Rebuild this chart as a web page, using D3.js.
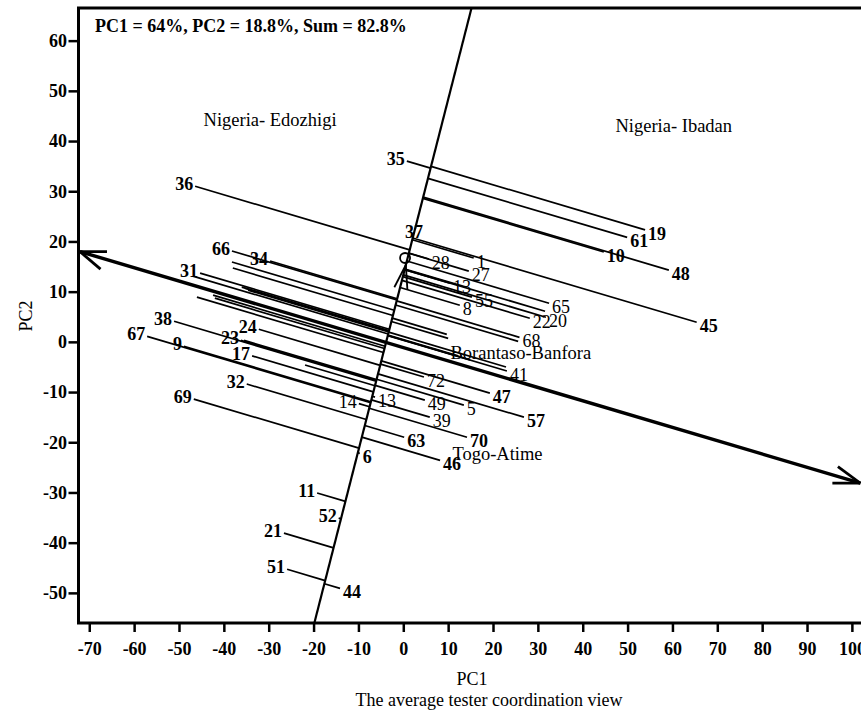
<!DOCTYPE html>
<html>
<head>
<meta charset="utf-8">
<script src="https://cdn.jsdelivr.net/npm/d3@7"></script>
<style>
body{margin:0;background:#fff;}
text{font-family:"Liberation Serif","Times New Roman",serif;fill:#000;}
</style>
</head>
<body>
<svg id="chart" width="861" height="714" viewBox="0 0 861 714"></svg>
<script>
// genotype scores ("" = line without visible label)
let genotypes = ["36","35","37","19","61","10","48","45","28","1","27","13","55","8","65","20","22","68","41",
    "72","47","49","5","57","39","70","63","46","13","14","6","11","52","21","51","44","69","32","17","9","67",
    "38","23","24","31","66","34",
    "","","","","","","","","","","","","","","","","","",""];
let pc1 = [-46.4,0.8,2.4,53.9,49.9,44.7,59.2,65.4,5.7,15.7,14.6,10.4,15.3,12.6,32.5,31.8,28.2,25.9,23.1,
    4.6,19.3,4.8,13.5,26.9,5.9,14.2,0.2,8.2,-6.3,-9.9,-9.7,-19.2,-14.4,-26.6,-25.9,-14.1,-46.7,-34.9,-33.7,-48.9,-57.1,
    -51.1,-36.2,-32.2,-45.3,-38.2,-29.7,
    -46.9,-38.2,-38.0,-46.0,-42.4,-42.0,-36.0,-35.3,-34.6,-35.5,-21.9,25.6,22.9,10.0,9.7,14.9,12.2,31.6,14.0];
let pc2 = [31.0,36.0,21.7,22.3,20.8,17.9,14.3,3.9,16.5,16.7,14.1,11.7,8.9,7.3,7.7,4.9,4.7,0.9,-5.8,
    -7.0,-10.2,-11.6,-12.6,-15.0,-15.0,-19.0,-19.0,-23.6,-11.0,-12.3,-22.2,-30.1,-35.1,-38.1,-45.3,-49.1,-11.4,-8.4,-2.8,-0.9,1.1,
    4.1,0.3,2.5,13.7,18.1,16.1,
    13.1,15.9,14.7,8.9,9.3,8.7,10.9,10.7,10.3,0.3,-4.6,0.1,-5.0,0.7,1.5,-3.6,-2.8,6.1,10.9];

// environments (label only)
let envNames = ["Nigeria- Edozhigi","Nigeria- Ibadan","Borantaso-Banfora","Togo-Atime"];
let envPC1 = [-29.7,60.3,26.2,21.0];
let envPC2 = [44.2,43.0,-2.1,-22.3];

// average tester coordination axes (end points) and average environment
let abscissa = [[-72.07,17.97],[101.9,-28.15]];
let ordinate = [[-19.84,-56.04],[15.2,66.47]];
let avgEnv = [0.4,16.7];

let xTicks = d3.range(-70,101,10);
let yTicks = d3.range(-50,61,10);
let title = "PC1 = 64%, PC2 = 18.8%, Sum = 82.8%";

let svg = d3.select("#chart");
let x = d3.scaleLinear().domain([-72.4,109.5]).range([78.5,894.5]);
let y = d3.scaleLinear().domain([-56,66.5]).range([623,8]);

// labels drawn in the thinner face
let thinLabels = new Set(["28","1","27","13","55","8","65","22","20","68","41","72","49","5","39","14"]);

svg.append("rect").attr("width",861).attr("height",714).attr("fill","#fff");

// foot of each genotype on the ordinate, moving parallel to the abscissa
function foot(px,py){
    let dx = abscissa[1][0]-abscissa[0][0], dy = abscissa[1][1]-abscissa[0][1];
    let ax = ordinate[0][0], ay = ordinate[0][1];
    let ex = ordinate[1][0]-ax, ey = ordinate[1][1]-ay;
    // p + t*d = a + s*e
    let den = dx*ey - dy*ex;
    let t = ((ax-px)*ey - (ay-py)*ex)/den;
    return [px+t*dx, py+t*dy];
}

let g = svg.append("g");

let rows = genotypes.map(function(d,i){
    let f = foot(pc1[i],pc2[i]);
    return {name:d, x:pc1[i], y:pc2[i], fx:f[0], fy:f[1]};
});

g.selectAll(".gline")
    .data(rows)
    .enter()
    .append("line")
    .attr("x1",d=>x(d.fx)).attr("y1",d=>y(d.fy))
    .attr("x2",d=>x(d.x)).attr("y2",d=>y(d.y))
    .attr("stroke","#000").attr("stroke-width",1.7);

// ordinate
g.append("line")
    .attr("x1",x(ordinate[0][0])).attr("y1",y(ordinate[0][1]))
    .attr("x2",x(ordinate[1][0])).attr("y2",y(ordinate[1][1]))
    .attr("stroke","#000").attr("stroke-width",2.2);

// abscissa with arrows at both ends
g.append("line")
    .attr("x1",x(abscissa[0][0])).attr("y1",y(abscissa[0][1]))
    .attr("x2",x(abscissa[1][0])).attr("y2",y(abscissa[1][1]))
    .attr("stroke","#000").attr("stroke-width",3.4);

function arrowHead(tx,ty,bx,by,angles,len,w){
    let a0 = Math.atan2(by-ty,bx-tx);
    angles.forEach(function(a){
        let r = a0 + a*Math.PI/180;
        g.append("line")
            .attr("x1",tx).attr("y1",ty)
            .attr("x2",tx+len*Math.cos(r)).attr("y2",ty+len*Math.sin(r))
            .attr("stroke","#000").attr("stroke-width",w);
    });
}
let L = [x(abscissa[0][0]),y(abscissa[0][1])], R = [x(abscissa[1][0]),y(abscissa[1][1])];
arrowHead(L[0],L[1],R[0],R[1],[-16.5,24],27,2.8);
arrowHead(R[0],R[1],L[0],L[1],[-16.5,20],28,2.8);

// average environment circle and small arrow on the ordinate
let cx = x(avgEnv[0]), cy = y(avgEnv[1]);
g.append("circle").attr("cx",cx).attr("cy",cy).attr("r",5)
    .attr("fill","none").attr("stroke","#000").attr("stroke-width",1.8);
let ob = [x(ordinate[0][0]),y(ordinate[0][1])], ot = [x(ordinate[1][0]),y(ordinate[1][1])];
let tipY = cy+7;
let tipX = ob[0] + (ot[0]-ob[0])*(tipY-ob[1])/(ot[1]-ob[1]);
arrowHead(tipX,tipY,ob[0],ob[1],[-18,13],25,1.8);

// genotype labels
g.selectAll(".glabel")
    .data(rows.filter(d=>d.name!==""))
    .enter()
    .append("text")
    .attr("font-size",18)
    .attr("font-weight",d=>thinLabels.has(d.name)?"normal":"bold")
    .each(function(d){
        let px = x(d.x), fpx = x(d.fx);
        let t = d3.select(this).text(d.name);
        if (Math.abs(px-fpx)<1.5){
            t.attr("text-anchor","middle").attr("x",px).attr("y",y(d.y)+5.5);
        }
        else if (px<fpx){
            t.attr("text-anchor","end").attr("x",px-2).attr("y",y(d.y)+4);
        }
        else{
            t.attr("text-anchor","start").attr("x",px+3).attr("y",y(d.y)+10);
        }
    });

// environment labels
g.selectAll(".env")
    .data(envNames)
    .enter()
    .append("text")
    .attr("x",(d,i)=>x(envPC1[i]))
    .attr("y",(d,i)=>y(envPC2[i]))
    .attr("dy","0.35em")
    .attr("text-anchor","middle")
    .attr("font-size",18.5)
    .text(d=>d);

// frame
svg.append("rect")
    .attr("x",78.5).attr("y",8).attr("width",816).attr("height",615)
    .attr("fill","none").attr("stroke","#000").attr("stroke-width",3);

let xAxis = svg.append("g")
    .attr("transform","translate(0,623)")
    .call(d3.axisBottom(x).tickValues(xTicks).tickSize(9).tickPadding(10).tickFormat(d=>String(d)));
let yAxis = svg.append("g")
    .attr("transform","translate(78.5,0)")
    .call(d3.axisLeft(y).tickValues(yTicks).tickSize(10).tickPadding(1.5).tickFormat(d=>String(d)));
[xAxis,yAxis].forEach(function(a){
    a.select(".domain").remove();
    a.selectAll("line").attr("stroke","#000").attr("stroke-width",2.5);
    a.selectAll("text").attr("font-size",18).attr("font-weight","bold")
        .attr("font-family","'Liberation Serif','Times New Roman',serif").attr("fill","#000");
});

svg.append("text").attr("x",95).attr("y",32).attr("font-size",18).attr("font-weight","bold").text(title);

svg.append("text").attr("x",472).attr("y",685).attr("text-anchor","middle").attr("font-size",18).text("PC1");
svg.append("text").attr("x",489).attr("y",706).attr("text-anchor","middle").attr("font-size",18)
    .text("The average tester coordination view");
svg.append("text").attr("transform","translate(32,316) rotate(-90)").attr("text-anchor","middle")
    .attr("font-size",18).text("PC2");
</script>
</body>
</html>
